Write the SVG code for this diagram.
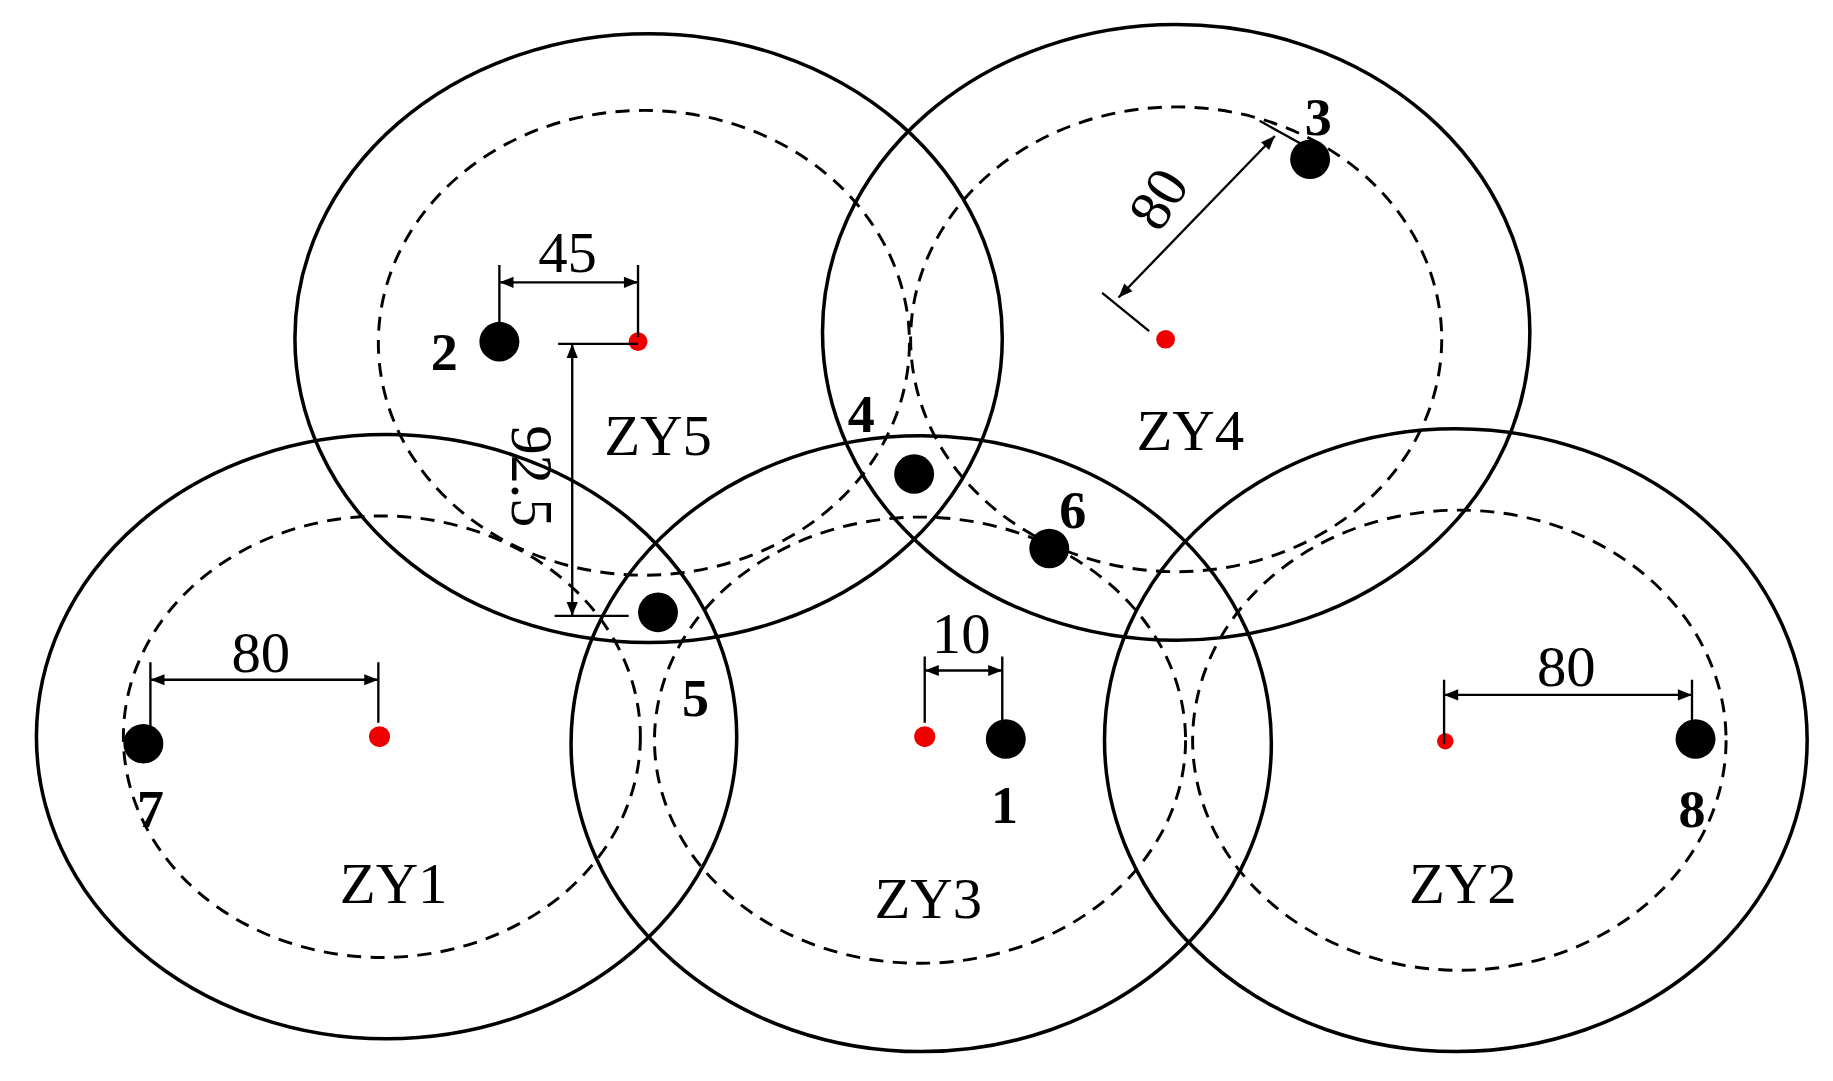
<svg xmlns="http://www.w3.org/2000/svg" width="1833" height="1081" viewBox="0 0 1833 1081">
<defs><marker id="a" viewBox="0 0 10 10" refX="10" refY="5" markerWidth="14" markerHeight="12" orient="auto-start-reverse" markerUnits="userSpaceOnUse"><path d="M0,1 L10,5 L0,9 Z" fill="#000"/></marker>
<style>.o{fill:none;stroke:#000;stroke-width:3}.d{fill:none;stroke:#000;stroke-width:2.5;stroke-dasharray:12 8}.b{fill:#000}.r{fill:#e00}.l{stroke:#000;stroke-width:2;fill:none}.m{stroke:#000;stroke-width:2;fill:none;marker-start:url(#a);marker-end:url(#a)}.z{font-family:"Liberation Serif",serif;font-size:50px;text-anchor:middle}.n{font-family:"Liberation Serif",serif;font-size:46px;font-weight:bold;text-anchor:middle}.t{font-family:"Liberation Serif",serif;font-size:50px;text-anchor:middle}</style></defs>
<rect width="1833" height="1081" fill="#fff"/>
<g transform="scale(1.175,1.162)">
<g id="ZY1"><ellipse class="o" cx="329" cy="634" rx="298" ry="260"/><ellipse class="d" cx="325" cy="634" rx="220" ry="190"/><circle class="r" cx="323" cy="634" r="9"/><text class="z" x="335" y="777">ZY1</text></g>
<g id="ZY3"><ellipse class="o" cx="784" cy="640" rx="298" ry="265"/><ellipse class="d" cx="783" cy="637" rx="226" ry="192"/><circle class="r" cx="787" cy="634" r="9"/><text class="z" x="790" y="790">ZY3</text></g>
<g id="ZY2"><ellipse class="o" cx="1239" cy="637" rx="299" ry="268"/><ellipse class="d" cx="1242" cy="637" rx="227" ry="198"/><circle class="r" cx="1230" cy="638" r="7"/><text class="z" x="1245" y="777">ZY2</text></g>
<g id="ZY5"><ellipse class="o" cx="552" cy="291" rx="301" ry="262"/><ellipse class="d" cx="548" cy="295" rx="226" ry="200"/><circle class="r" cx="543" cy="294" r="8"/><text class="z" x="560" y="392">ZY5</text></g>
<g id="ZY4"><ellipse class="o" cx="1001" cy="286" rx="301" ry="265"/><ellipse class="d" cx="1001" cy="292" rx="226" ry="200"/><circle class="r" cx="992" cy="292" r="8"/><text class="z" x="1013" y="387">ZY4</text></g>
<g id="p1"><circle class="b" cx="856" cy="636" r="17"/><text class="n" x="855" y="708">1</text></g>
<g id="p2"><circle class="b" cx="425" cy="294" r="17"/><text class="n" x="378" y="318">2</text></g>
<g id="p3"><circle class="b" cx="1115" cy="137" r="17"/><text class="n" x="1122" y="116">3</text></g>
<g id="p4"><circle class="b" cx="778" cy="408" r="17"/><text class="n" x="733" y="372">4</text></g>
<g id="p5"><circle class="b" cx="560" cy="527" r="17"/><text class="n" x="592" y="616">5</text></g>
<g id="p6"><circle class="b" cx="893" cy="472" r="17"/><text class="n" x="913" y="454">6</text></g>
<g id="p7"><circle class="b" cx="122" cy="640" r="17"/><text class="n" x="128" y="712">7</text></g>
<g id="p8"><circle class="b" cx="1443" cy="636" r="17"/><text class="n" x="1440" y="712">8</text></g>
<g id="connectors">
<path class="l" d="M425,228V294M543,228V290"/><path class="m" d="M425,243H543"/><text class="t" x="483" y="234">45</text>
<path class="l" d="M475,296H543M472,530H535"/><path class="m" d="M487,296V530"/><text class="t" transform="translate(436,410) rotate(90)">92.5</text>
<path class="l" d="M128,570V640M322,570V622"/><path class="m" d="M128,585H322"/><text class="t" x="222" y="578">80</text>
<path class="l" d="M787,565V622M853,565V625"/><path class="m" d="M787,577H853"/><text class="t" x="818" y="562">10</text>
<path class="l" d="M1229,585V640M1440,585V628"/><path class="m" d="M1229,598H1440"/><text class="t" x="1333" y="590">80</text>
<path class="l" d="M938,252L978,285M1072,104L1113,127"/><path class="m" d="M952,256L1085,117"/><text class="t" transform="translate(1000,180) rotate(-58)">80</text>
</g>
</g>
</svg>
